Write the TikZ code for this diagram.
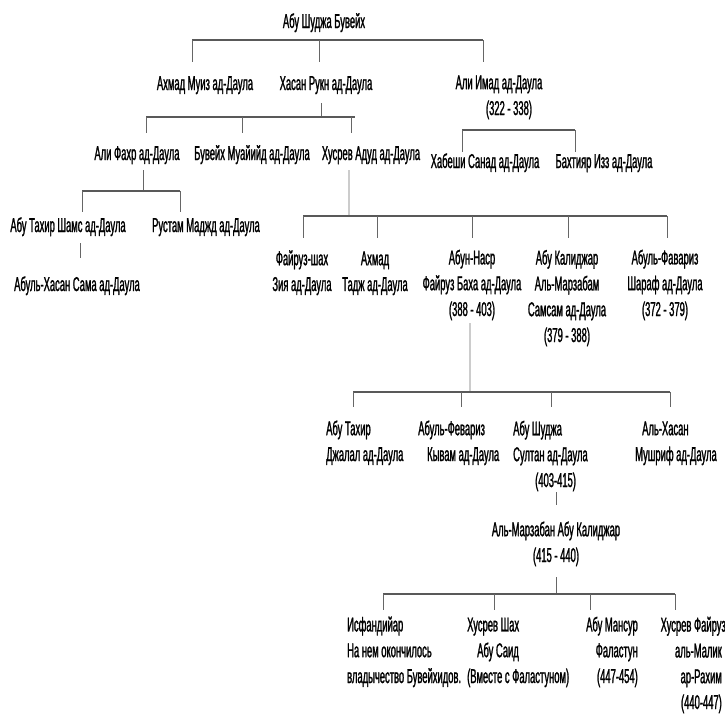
\documentclass[tikz,border=0pt]{standalone}
\usepackage{fontspec}
\newfontfamily\condfont[FakeStretch=0.47,FakeBold=1.2]{Liberation Sans}
\usepackage{tikz}

\tikzset{
    person/.style={font=\condfont\fontsize{20}{25.8}\selectfont, inner sep=0pt, anchor=base, align=center},
    bar/.style={color=black!65, line width=1.4pt},
    drop/.style={color=black!60, line width=1pt},
    faint/.style={color=black!20, line width=1.2pt}
}

\begin{document}
\begin{tikzpicture}[x=1pt,y=-1pt]
    \useasboundingbox (0,0) rectangle (725,720);
    % multi-line names are placed by the baseline of their last line

    % Abu Shuja and his sons
    \node[person] (root) at (324,28) {Абу Шуджа Бувейх};
    \draw[bar] (192,40) -- (483,40);
    \foreach \x in {192, 319, 483}
        \draw[drop] (\x,40) -- (\x,62);
    \node[person] (ahmad) at (205,90) {Ахмад Муиз ад-Даула};
    \node[person] (hasan) at (326,90) {Хасан Рукн ад-Даула};
    \node[person] (alimad) at (499,115) {Али Имад ад-Даула\\\hspace*{20pt}(322 - 338)};

    % sons of Hasan
    \draw[drop] (321,103) -- (321,117);
    \draw[bar] (146,117) -- (355,117);
    \foreach \x in {146, 242, 351}
        \draw[drop] (\x,117) -- (\x,133);
    \node[person] (alifakhr) at (137,160) {Али Фахр ад-Даула};
    \node[person] (buveih) at (252,160) {Бувейх Муайийд ад-Даула};
    \node[person] (khusrev) at (371,160) {Хусрев Адуд ад-Даула};

    % sons of Ali Imad
    \draw[bar] (462,130) -- (575,130);
    \foreach \x in {462, 575}
        \draw[drop] (\x,130) -- (\x,152);
    \node[person] (habeshi) at (485,168) {Хабеши Санад ад-Даула};
    \node[person] (bakhtiyar) at (604,168) {Бахтияр Изз ад-Даула};

    % line of Ali Fakhr
    \draw[drop] (143,170) -- (143,191);
    \draw[bar] (82,191) -- (180,191);
    \foreach \x in {82, 180}
        \draw[drop] (\x,191) -- (\x,212);
    \node[person] (shams) at (68,232) {Абу Тахир Шамс ад-Даула};
    \node[person] (rustam) at (206,232) {Рустам Маджд ад-Даула};
    \draw[drop] (80,243) -- (80,258);
    \node[person] (sama) at (77,291) {Абуль-Хасан Сама ад-Даула};

    % sons of Khusrev
    \draw[faint] (349,170) -- (349,216);
    \draw[bar] (303,216) -- (667,216);
    \foreach \x in {303, 377, 472, 568, 667}
        \draw[drop] (\x,216) -- (\x,238);
    \node[person] (fairuzshah) at (302,291) {Файруз-шах\\Зия ад-Даула};
    \node[person] (taj) at (375,291) {Ахмад\\Тадж ад-Даула};
    \node[person] (abunnasr) at (472,316) {Абун-Наср\\Файруз Баха ад-Даула\\(388 - 403)};
    \node[person] (samsam) at (567,342) {Абу Калиджар\\Аль-Марзабам\\Самсам ад-Даула\\(379 - 388)};
    \node[person] (sharaf) at (665,316) {Абуль-Фавариз\\Шараф ад-Даула\\(372 - 379)};

    % sons of Abun-Nasr
    \draw[faint] (470,323) -- (470,392);
    \draw[bar] (353,392) -- (670,392);
    \foreach \x in {353, 461, 551, 670}
        \draw[drop] (\x,392) -- (\x,407);
    \node[person, anchor=base west, align=left] (jalal) at (326,461) {Абу Тахир\\Джалал ад-Даула};
    \node[person, anchor=base west, align=left] (qavam) at (418,461) {Абуль-Февариз\\\hspace*{9pt}Кывам ад-Даула};
    \node[person, anchor=base west, align=left] (sultan) at (513,487) {Абу Шуджа\\Султан ад-Даула\\\hspace*{22pt}(403-415)};
    \node[person, anchor=base west, align=left] (mushrif) at (635,461) {\hspace*{7pt}Аль-Хасан\\Мушриф ад-Даула};

    % Abu Kalijar and his sons
    \draw[drop] (556,492) -- (556,505);
    \node[person] (marzaban) at (556,562) {Аль-Марзабан Абу Калиджар\\(415 - 440)};
    \draw[drop] (556,577) -- (556,594);
    \draw[bar] (383,594) -- (675,594);
    \foreach \x in {383, 494, 590, 675}
        \draw[drop] (\x,594) -- (\x,610);
    \node[person, anchor=base west, align=left] (isfandiyar) at (347,683) {Исфандийар\\На нем окончилось\\владычество Бувейхидов.};
    \node[person, anchor=base west, align=left] (khusravshah) at (467,683) {Хусрев Шах\\\hspace*{10pt}Абу Саид\\(Вместе с Фаластуном)};
    \node[person, anchor=base east, align=right] (mansur) at (638,683) {Абу Мансур\\Фаластун\\(447-454)};
    \node[person, anchor=base east, align=right] (rahim) at (722,709) {Хусрев Файруз\hspace*{-4pt}\\аль-Малик\\ар-Рахим\hspace*{7pt}\\(440-447)};
\end{tikzpicture}
\end{document}
